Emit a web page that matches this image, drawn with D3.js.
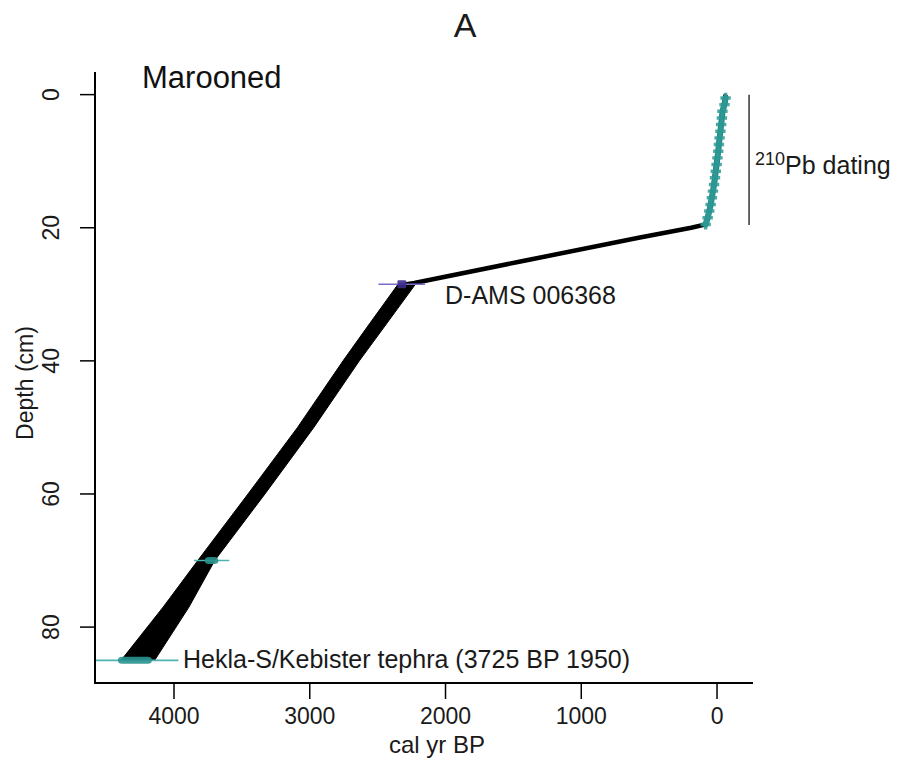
<!DOCTYPE html>
<html>
<head>
<meta charset="utf-8">
<script src="https://cdn.jsdelivr.net/npm/d3@7"></script>
<style>
body { margin: 0; background: #fff; }
svg { font-family: "Liberation Sans", Arial, Helvetica, sans-serif; }
</style>
</head>
<body>
<svg id="chart" width="897" height="776"></svg>
<script>
// values
var xTicks = [4000, 3000, 2000, 1000, 0];
var yTicks = [0, 20, 40, 60, 80];

// age-depth model envelope (cal yr BP)
var modelDepth = [0, 3, 6, 10, 14, 17, 19.5, 20, 21.5, 25, 28.3, 28.5, 35, 40, 50, 60, 70, 77, 85];
var modelMin   = [-66, -40, -24, 0, 24, 50, 80, 150, 555, 1400, 2190, 2222, 2455, 2635, 2970, 3330, 3700, 3890, 4143];
var modelMax   = [-60, -34, -18, 6, 30, 56, 88, 230, 600, 1460, 2270, 2350, 2580, 2755, 3090, 3455, 3825, 4080, 4390];

// 210Pb dates
var pbDepth = [0.5, 1.5, 2.5, 3.5, 4.5, 5.5, 6.5, 7.5, 8.5, 9.5, 10.5, 11.5, 12.5, 13.5, 14.5, 15.5, 16.5, 17.5, 18.5, 19.5];
var pbAge   = [-63, -55, -40, -36, -30, -25, -19, -14, -9, -3, 3, 9, 15, 22, 30, 38, 47, 57, 69, 84];

// other dates
var dateName   = ["D-AMS 006368", "", "Hekla-S/Kebister tephra (3725 BP 1950)"];
var dateDepth  = [28.5, 70, 85];
var dateAge    = [2322, 3723, 4288];
var dateErr    = [172, 130, 320];
var dateSpread = [32, 50, 125];
var dateKind   = ["ams", "tephra", "tephra"];

var svg = d3.select("#chart");
var margin = {top: 72, right: 144, bottom: 93, left: 95};
var W = 897, H = 776;
var ink = "#1a1a1a";

var x = d3.scaleLinear().domain([4582, -265]).range([margin.left, W - margin.right]);
var y = d3.scaleLinear().domain([-3.4, 88.4]).range([margin.top, H - margin.bottom]);

svg.append("clipPath").attr("id", "plotclip")
    .append("rect")
    .attr("x", margin.left).attr("y", margin.top)
    .attr("width", W - margin.right - margin.left)
    .attr("height", H - margin.bottom - margin.top);

var plot = svg.append("g").attr("clip-path", "url(#plotclip)");

// envelope
var idx = d3.range(modelDepth.length);
var band = d3.area()
    .y(function(i){ return y(modelDepth[i]); })
    .x0(function(i){ return x(modelMin[i]); })
    .x1(function(i){ return x(modelMax[i]); });
plot.append("path").datum(idx)
    .attr("d", band)
    .attr("fill", "#000").attr("stroke", "#000").attr("stroke-width", 1);

var mid = d3.line()
    .y(function(i){ return y(modelDepth[i]); })
    .x(function(i){ return x((modelMin[i] + modelMax[i]) / 2); });
plot.append("path").datum(idx)
    .attr("d", mid)
    .attr("fill", "none").attr("stroke", "#000").attr("stroke-width", 4.5)
    .attr("stroke-linejoin", "round");

// 210Pb dates
var pbIdx = d3.range(pbDepth.length);
plot.append("path").datum(pbIdx)
    .attr("d", d3.line()
        .y(function(i){ return y(pbDepth[i]); })
        .x(function(i){ return x(pbAge[i]); }))
    .attr("fill", "none").attr("stroke", "#1c8783").attr("stroke-width", 6)
    .attr("stroke-linecap", "round");
plot.selectAll(".pb").data(pbIdx).enter().append("path")
    .attr("class", "pb")
    .attr("transform", function(i){ return "translate(" + x(pbAge[i]) + "," + y(pbDepth[i]) + ")"; })
    .attr("d", d3.symbol().type(d3.symbolCross).size(60))
    .attr("fill", "#2f9a95").attr("opacity", 0.85);

// other dates: error line and calibrated blob
var dIdx = d3.range(dateDepth.length);
plot.selectAll(".derr").data(dIdx).enter().append("line")
    .attr("x1", function(i){ return x(dateAge[i] + dateErr[i]); })
    .attr("x2", function(i){ return x(dateAge[i] - dateErr[i]); })
    .attr("y1", function(i){ return y(dateDepth[i]); })
    .attr("y2", function(i){ return y(dateDepth[i]); })
    .attr("stroke", function(i){ return dateKind[i] == "ams" ? "#7a6cc8" : "#4fb3ae"; })
    .attr("stroke-width", 1.6);
plot.selectAll(".dblob").data(dIdx).enter().append("rect")
    .attr("x", function(i){ return x(dateAge[i] + dateSpread[i]); })
    .attr("width", function(i){ return Math.abs(x(dateAge[i] - dateSpread[i]) - x(dateAge[i] + dateSpread[i])); })
    .attr("y", function(i){ return y(dateDepth[i]) - (dateKind[i] == "ams" ? 4 : 3.5); })
    .attr("height", function(i){ return dateKind[i] == "ams" ? 8 : 7; })
    .attr("rx", function(i){ return dateKind[i] == "ams" ? 1 : 4; })
    .attr("fill", function(i){ return dateKind[i] == "ams" ? "#3b2e8c" : "#2a9490"; })
    .attr("opacity", 0.9);

// labels for dates
svg.selectAll(".dlab").data(dIdx.filter(function(i){ return dateName[i] != ""; })).enter().append("text")
    .attr("x", function(i){ return i == 0 ? 445 : 183; })
    .attr("y", function(i){ return y(dateDepth[i]) + (i == 0 ? 20 : 8); })
    .attr("font-size", 25).attr("fill", ink)
    .text(function(i){ return dateName[i]; });

// 210Pb bracket
svg.append("line")
    .attr("x1", x(-236)).attr("x2", x(-236))
    .attr("y1", y(0)).attr("y2", y(19.6))
    .attr("stroke", "#000").attr("stroke-width", 1.2);
var pbText = svg.append("text").attr("x", 755).attr("y", 174).attr("font-size", 25).attr("fill", ink);
pbText.append("tspan").attr("font-size", 18).attr("dy", -9).text("210");
pbText.append("tspan").attr("dy", 9).text("Pb dating");

// axes (L-shaped box)
var axes = svg.append("g");
axes.append("path")
    .attr("d", "M" + margin.left + "," + margin.top + "V" + (H - margin.bottom) + "H" + (W - margin.right))
    .attr("fill", "none").attr("stroke", "#000").attr("stroke-width", 2);

axes.selectAll(".xt").data(xTicks).enter().append("line")
    .attr("x1", function(d){ return x(d); }).attr("x2", function(d){ return x(d); })
    .attr("y1", H - margin.bottom).attr("y2", H - margin.bottom + 16)
    .attr("stroke", "#000").attr("stroke-width", 1.5);
axes.selectAll(".xl").data(xTicks).enter().append("text")
    .attr("x", function(d){ return x(d); }).attr("y", 724)
    .attr("text-anchor", "middle").attr("font-size", 23).attr("fill", ink)
    .text(function(d){ return d; });

axes.selectAll(".yt").data(yTicks).enter().append("line")
    .attr("y1", function(d){ return y(d); }).attr("y2", function(d){ return y(d); })
    .attr("x1", margin.left).attr("x2", margin.left - 15)
    .attr("stroke", "#000").attr("stroke-width", 1.5);
axes.selectAll(".yl").data(yTicks).enter().append("text")
    .attr("transform", function(d){ return "translate(59," + y(d) + ") rotate(-90)"; })
    .attr("text-anchor", "middle").attr("font-size", 23).attr("fill", ink)
    .text(function(d){ return d; });

svg.append("text").attr("x", 437).attr("y", 753)
    .attr("text-anchor", "middle").attr("font-size", 24).attr("fill", ink)
    .text("cal yr BP");
svg.append("text").attr("transform", "translate(33,383) rotate(-90)")
    .attr("text-anchor", "middle").attr("font-size", 23).attr("fill", ink)
    .text("Depth (cm)");

svg.append("text").attr("x", 465).attr("y", 37)
    .attr("text-anchor", "middle").attr("font-size", 34).attr("fill", ink)
    .text("A");
svg.append("text").attr("x", 142).attr("y", 88)
    .attr("font-size", 31).attr("fill", "#111")
    .text("Marooned");
</script>
</body>
</html>
